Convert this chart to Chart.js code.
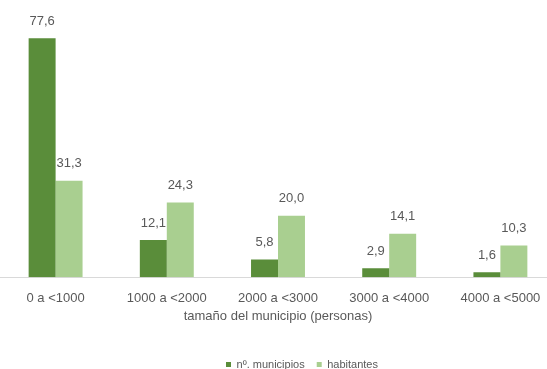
<!DOCTYPE html>
<html>
<head>
<meta charset="utf-8">
<script src="https://cdn.jsdelivr.net/npm/chart.js@4.4.1/dist/chart.umd.min.js"></script>
<style>
  html, body { margin: 0; padding: 0; background: #fff; overflow: hidden; }
  #wrap { width: 556px; height: 369px; }
</style>
</head>
<body>
<div id="wrap"><canvas id="sizeChart"></canvas></div>
<script>
  // tramos de tamaño del municipio
  const categories = ['0 a <1000', '1000 a <2000', '2000 a <3000', '3000 a <4000', '4000 a <5000'];
  const municipios = [77.6, 12.1, 5.8, 2.9, 1.6];
  const habitantes = [31.3, 24.3, 20.0, 14.1, 10.3];
  const seriesNames = ['nº. municipios', 'habitantes'];
  const axisTitle = 'tamaño del municipio (personas)';

  const textGray = '#595959';
  const fontFamily = '"Liberation Sans", Arial, sans-serif';

  // values above the bars, with a comma as decimal mark
  const valueLabels = {
    id: 'valueLabels',
    afterDatasetsDraw(chart) {
      const ctx = chart.ctx;
      ctx.save();
      ctx.font = '13px ' + fontFamily;
      ctx.fillStyle = textGray;
      ctx.textAlign = 'center';
      ctx.textBaseline = 'middle';
      chart.data.datasets.forEach((ds, i) => {
        chart.getDatasetMeta(i).data.forEach((bar, j) => {
          const txt = ds.data[j].toFixed(1).replace('.', ',');
          ctx.fillText(txt, bar.x, bar.y - 17);
        });
      });
      ctx.restore();
    }
  };

  // the legend sits a bit right of the centre in the original
  const legendShift = {
    id: 'legendShift',
    afterLayout(chart) {
      if (chart.legend) {
        chart.legend.left += 24;
        chart.legend.right += 24;
      }
    }
  };

  document.addEventListener('DOMContentLoaded', function() {
    const ctx = document.getElementById('sizeChart').getContext('2d');
    new Chart(ctx, {
      type: 'bar',
      data: {
        labels: categories,
        datasets: [{
          label: seriesNames[0],
          data: municipios,
          backgroundColor: '#5a8d3a',
          barPercentage: 1,
          categoryPercentage: 0.485
        }, {
          label: seriesNames[1],
          data: habitantes,
          backgroundColor: '#a9cf90',
          barPercentage: 1,
          categoryPercentage: 0.485
        }]
      },
      options: {
        responsive: true,
        maintainAspectRatio: false,
        animation: false,
        layout: { padding: { top: 0, left: 0, right: 0, bottom: -11 } },
        plugins: {
          legend: {
            position: 'bottom',
            labels: {
              boxWidth: 5,
              boxHeight: 5,
              padding: 12,
              color: textGray,
              font: { family: fontFamily, size: 11 }
            }
          },
          tooltip: { enabled: false }
        },
        scales: {
          x: {
            grid: { display: false, drawTicks: false },
            border: { color: '#d9d9d9' },
            ticks: {
              color: textGray,
              padding: 13,
              font: { family: fontFamily, size: 13 }
            },
            title: {
              display: true,
              text: axisTitle,
              color: textGray,
              padding: { top: -10.5, bottom: 23 },
              font: { family: fontFamily, size: 13 }
            }
          },
          y: {
            display: false,
            min: 0,
            max: 90
          }
        }
      },
      plugins: [valueLabels, legendShift]
    });
  });
</script>
</body>
</html>
